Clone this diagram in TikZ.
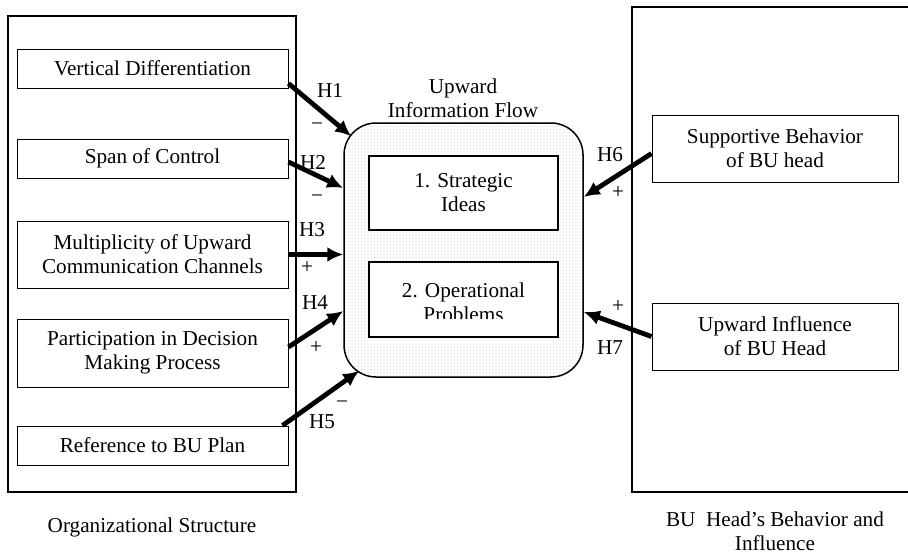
\documentclass[tikz,border=0pt]{standalone}
\usepackage{fontspec}
\setmainfont{Liberation Serif}
\usetikzlibrary{arrows.meta,patterns.meta}

\begin{document}
\begin{tikzpicture}[x=0.5pt,y=-0.5pt,
  every node/.style={font=\fontsize{10.6}{12}\selectfont,align=center},
  factor/.style={draw,line width=0.5pt,inner sep=0pt,minimum width=135.5pt,minimum height=19.5pt},
  driver/.style={draw,line width=0.5pt,inner sep=0pt,minimum width=123pt,minimum height=33.5pt},
  flowbox/.style={draw,line width=0.9pt,fill=white,inner sep=0pt,minimum width=94.5pt,minimum height=37pt},
  hyp/.style={line width=2.4pt,-{Latex[length=8pt,width=7.5pt]}}]
\useasboundingbox (0,0) rectangle (908,552);

% outer groups
\node [draw,line width=0.65pt,inner sep=0pt,minimum width=144pt,minimum height=238pt] (org) at (152,254) {};
\node (orgtitle) at (152,527) {Organizational Structure};
\node [draw,line width=0.65pt,inner sep=0pt,minimum width=140pt,minimum height=242.5pt] (bu) at (772,249.5) {};
\node (butitle) at (775,531) {BU~ Head’s Behavior and\\Influence};

% left factors
\node [factor] (vd) at (152.5,68.5) {Vertical Differentiation};
\node [factor] (span) at (152.5,158.5) {Span of Control};
\node [factor,minimum height=33.5pt] (mult) at (152.5,254.5) {Multiplicity of Upward\\Communication Channels};
\node [factor,minimum height=34pt] (part) at (152.5,353) {Participation in Decision\\Making Process};
\node [factor] (ref) at (152.5,445.5) {Reference to BU Plan};

% right factors
\node [driver] (sup) at (775,148.5) {Supportive Behavior\\of BU head};
\node [driver] (upi) at (775,336.5) {Upward Influence\\of BU Head};

% upward information flow
\node (flowtitle) at (463,98) {Upward\\Information Flow};
\node [draw,line width=0.75pt,rounded corners=16pt,inner sep=0pt,minimum width=119.5pt,minimum height=127pt,
       pattern={Dots[distance=1.6pt,radius=0.25pt]},pattern color=gray!50] (flow) at (463.5,250) {};
\node [flowbox] (strat) at (463.5,193) {1. Strategic\\Ideas};
\node [flowbox,minimum height=37.5pt] (ops) at (463.5,299.5) {};
\begin{scope}
\clip (369,262) rectangle (558,318);
\node (opstext) at (463.5,302) {2. Operational\\Problems};
\end{scope}

% hypotheses
\draw [hyp] ([yshift=-7.5pt]vd.east) -- ([xshift=4pt,yshift=-7pt]flow.north west);
\draw [hyp] ([yshift=-1.75pt]span.east) -- ([yshift=31pt]flow.west);
\draw [hyp] (mult.east) -- (mult.east -| flow.west);
\draw [hyp] ([yshift=3pt]part.east) -- ([yshift=-30.5pt]flow.west);
\draw [hyp] ([xshift=-3pt]ref.north east) -- ([xshift=8pt,yshift=3.5pt]flow.south west);
\draw [hyp] ([yshift=-2.5pt]sup.west) -- ([yshift=26.5pt]flow.east);
\draw [hyp] (upi.west) -- ([yshift=-31pt]flow.east);

\foreach \n/\x/\y in {1/330/90,2/313/162,3/312/230,4/315/303,5/322/422,6/610/155,7/610/348}
  \node (h\n) at (\x,\y) {H\n};
\foreach \n/\s/\x/\y in {1/−/317/127,2/−/317/199,3/+/307/268,4/+/316/348,5/−/342/405,6/+/618/193,7/+/618/307}
  \node (s\n) at (\x,\y) {\s};

\end{tikzpicture}
\end{document}
